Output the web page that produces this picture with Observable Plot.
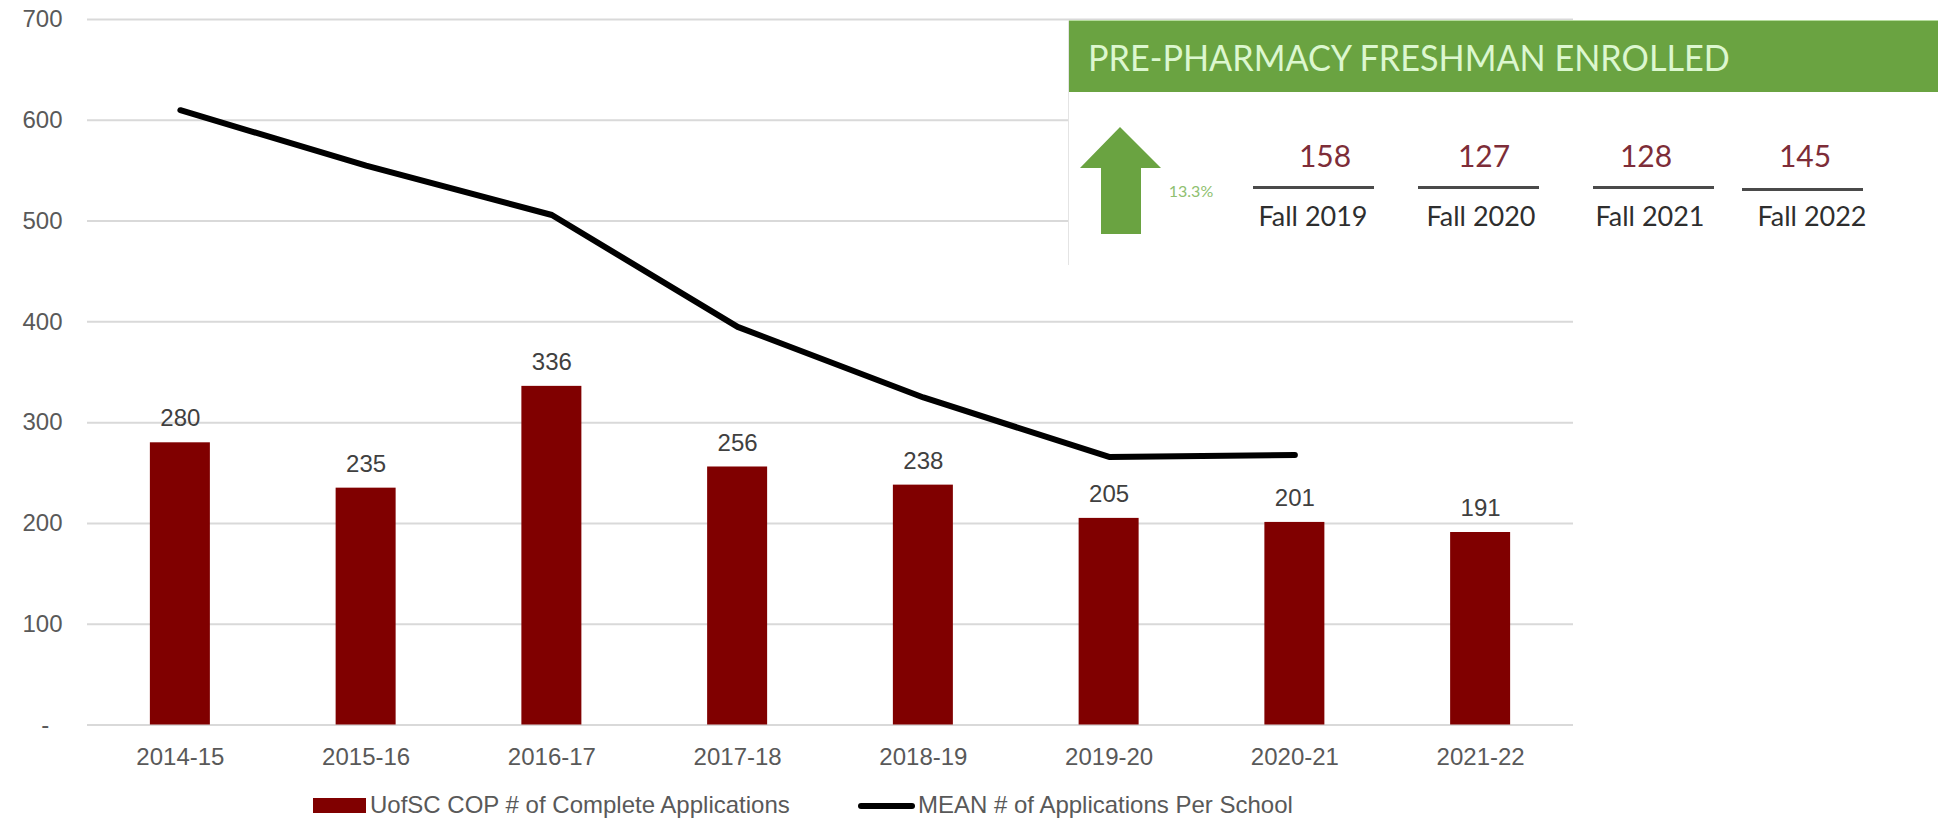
<!DOCTYPE html>
<html>
<head>
<meta charset="utf-8">
<script src="https://cdn.jsdelivr.net/npm/d3@7"></script>
<script src="https://cdn.jsdelivr.net/npm/@observablehq/plot@0.6"></script>
<style>
  html, body { margin: 0; padding: 0; background: #fff; overflow: hidden; }
  #wrap { position: relative; width: 1938px; height: 819px; font-family: "Liberation Sans", Arial, sans-serif; }
  #chart svg { display: block; }
  #legend { position: absolute; left: 0; top: 785px; width: 100%; height: 34px; color: #595959; font-size: 24px; }
  #legend span { position: absolute; white-space: nowrap; line-height: 34px; top: 3px; }
  #legend i { position: absolute; display: block; }
  #inset { position: absolute; left: 1068px; top: 20px; width: 870px; height: 245px; background: #fff; border-left: 1px solid #e4e4e4; box-sizing: border-box; font-family: Lato, "Open Sans", sans-serif; }
  #band { position: absolute; left: 0; top: 0; right: 0; height: 72px; background: #6aa341; border-top: 1px solid #b5dc9c; box-sizing: border-box; }
  #band b { position: absolute; left: 19px; top: 0; font-weight: 400; color: #dcf7cf; font-size: 36px; line-height: 72px; white-space: nowrap; transform: scaleX(0.95); transform-origin: left center; }
  .n, .f, .r, .pct { position: absolute; }
  .n { color: #7d2d38; font-size: 30px; transform: translate(-50%, -50%); }
  .f { color: #2e2e2e; font-size: 27px; transform: translate(-50%, -50%); white-space: nowrap; }
  .r { height: 3px; background: #4a4a4a; }
  .pct { color: #8fbf70; font-size: 16px; transform: translate(-50%, -50%); }
</style>
</head>
<body>
<div id="wrap">
  <div id="chart"></div>
  <div id="legend"></div>
  <div id="inset"><div id="band"><b id="bandText"></b></div></div>
</div>
<script>
const years = ["2014-15","2015-16","2016-17","2017-18","2018-19","2019-20","2020-21","2021-22"];
const applications = [280,235,336,256,238,205,201,191];
const meanYears = ["2014-15","2015-16","2016-17","2017-18","2018-19","2019-20","2020-21"];
const meanApplications = [610,555,506,395,325,266,268];
const yTicks = [0,100,200,300,400,500,600,700];
const legendBar = "UofSC COP # of Complete Applications";
const legendLine = "MEAN # of Applications Per School";
const insetTitle = "PRE-PHARMACY FRESHMAN ENROLLED";
const insetPct = "13.3%";
const insetValues = [158,127,128,145];
const insetTerms = ["Fall 2019","Fall 2020","Fall 2021","Fall 2022"];

const bars = years.map((y, i) => ({year: y, value: applications[i]}));
const mean = meanYears.map((y, i) => ({year: y, value: meanApplications[i]}));

const chart = Plot.plot({
  width: 1938, height: 785,
  marginLeft: 87, marginRight: 365, marginTop: 19, marginBottom: 60.5,
  style: {fontFamily: '"Liberation Sans", Arial, sans-serif', background: "#fff", overflow: "visible"},
  x: {type: "band", domain: years, paddingInner: 0.677, paddingOuter: 0.3385, align: 0.5, round: false, label: null},
  y: {domain: [0, 700], label: null},
  marks: [
    Plot.gridY(yTicks, {stroke: "#d9d9d9", strokeOpacity: 1, strokeWidth: 2}),
    Plot.axisX({tickSize: 0, tickPadding: 23, fontSize: 24, label: null, fill: "#595959"}),
    Plot.axisY(yTicks, {tickSize: 0, tickPadding: 25, fontSize: 24, fill: "#595959", label: null,
      tickFormat: d => d === 0 ? "-\u00a0\u00a0" : String(d)}),
    Plot.barY(bars, {x: "year", y: "value", fill: "#800000"}),
    Plot.text(bars, {x: "year", y: "value", text: d => String(d.value), dy: -24, fontSize: 24, fill: "#404040"}),
    Plot.line(mean, {x: "year", y: "value", stroke: "#000", strokeWidth: 6, strokeLinecap: "round", strokeLinejoin: "round"})
  ]
});
document.getElementById("chart").append(chart);

// Legend
const legend = document.getElementById("legend");
legend.innerHTML =
  `<i style="left:313px;top:13px;width:53px;height:15px;background:#800000"></i>` +
  `<span style="left:370px">${legendBar}</span>` +
  `<i style="left:858px;top:18px;width:57px;height:6px;background:#000;border-radius:3px"></i>` +
  `<span style="left:918px">${legendLine}</span>`;

// Inset panel (pasted picture in the reference)
const inset = document.getElementById("inset");
document.getElementById("bandText").textContent = insetTitle;
const svgNS = "http://www.w3.org/2000/svg";
const arrow = document.createElementNS(svgNS, "svg");
arrow.setAttribute("width", 90); arrow.setAttribute("height", 120);
arrow.style.cssText = "position:absolute;left:11px;top:104px";
arrow.innerHTML = `<polygon points="40,3 0,44 21,44 21,110 61,110 61,44 81,44" fill="#6aa341"/>`;
inset.append(arrow);
const add = (cls, text, css) => {
  const d = document.createElement("div");
  d.className = cls; d.textContent = text; d.style.cssText = css;
  inset.append(d);
};
add("pct", insetPct, "left:122px;top:170px");
const numX = [256,415,577,736], termX = [244,412,581,743], ruleX = [184,349,524,673], ruleY = [166,166,166,168];
insetValues.forEach((v, i) => {
  add("n", v, `left:${numX[i]}px;top:135px`);
  add("r", "", `left:${ruleX[i]}px;top:${ruleY[i]}px;width:121px`);
  add("f", insetTerms[i], `left:${termX[i]}px;top:195px`);
});
</script>
</body>
</html>
